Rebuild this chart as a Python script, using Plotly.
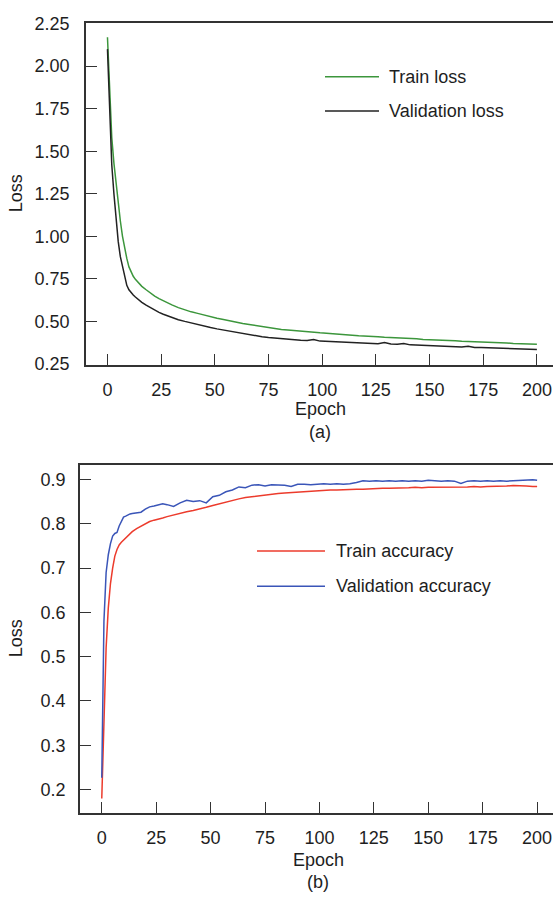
import plotly.graph_objects as go

W, H = 553, 905

epochs = [0,1,2,3,4,5,6,7,8,9,10,11,12,13,14,16,18,20,22,24,26,28,30,
          33,36,39,42,45,48,51,54,57,60,63,66,69,72,75,78,81,84,87,90,93,96,99,
          102,105,108,111,114,117,120,123,126,129,132,135,138,141,144,147,150,
          153,156,159,162,165,168,171,174,177,180,183,186,189,192,195,198,200]

train_loss = [2.17,1.85,1.58,1.43,1.31,1.20,1.09,1.00,0.93,0.87,0.82,0.79,0.765,0.747,0.731,
              0.706,0.686,0.666,0.649,0.634,0.620,0.608,0.597,
              0.581,0.568,0.556,0.547,0.536,0.528,0.518,0.511,0.502,0.496,0.488,0.482,0.476,
              0.468,0.461,0.457,0.452,0.449,0.445,0.443,0.439,0.437,0.433,
              0.431,0.427,0.425,0.421,0.419,0.416,0.415,0.411,0.410,0.407,0.406,0.403,0.402,
              0.399,0.398,0.394,0.393,0.390,0.389,0.386,0.386,0.383,0.382,0.380,0.379,0.376,
              0.376,0.373,0.373,0.370,0.370,0.367,0.367,0.366]

val_loss = [2.10,1.72,1.42,1.25,1.10,0.97,0.88,0.82,0.755,0.712,0.686,0.668,0.655,0.643,0.632,
            0.612,0.595,0.580,0.566,0.553,0.542,0.532,0.523,
            0.510,0.500,0.490,0.481,0.473,0.464,0.456,0.449,0.442,0.435,0.428,0.421,0.415,
            0.410,0.405,0.401,0.397,0.394,0.391,0.389,0.388,0.393,0.384,
            0.382,0.380,0.378,0.376,0.373,0.372,0.371,0.370,0.369,0.376,0.367,0.366,0.370,
            0.362,0.360,0.358,0.356,0.354,0.353,0.352,0.350,0.349,0.354,0.347,0.346,0.345,
            0.343,0.342,0.341,0.339,0.338,0.337,0.336,0.335]

train_acc = [0.18,0.36,0.52,0.61,0.665,0.700,0.727,0.742,0.752,0.758,0.763,0.768,0.774,0.778,0.782,
             0.789,0.795,0.800,0.805,0.808,0.810,0.813,0.816,
             0.820,0.823,0.827,0.830,0.833,0.837,0.841,0.845,0.849,0.853,0.856,0.859,0.861,
             0.863,0.865,0.866,0.868,0.869,0.870,0.872,0.873,0.874,0.875,
             0.875,0.876,0.876,0.877,0.877,0.878,0.878,0.879,0.879,0.880,0.880,0.880,0.881,
             0.881,0.882,0.881,0.882,0.882,0.883,0.882,0.883,0.883,0.883,0.884,0.883,0.884,
             0.884,0.885,0.885,0.886,0.886,0.885,0.884,0.884]

val_acc = [0.227,0.58,0.69,0.73,0.755,0.772,0.778,0.780,0.795,0.806,0.815,0.817,0.820,0.822,0.823,
           0.824,0.826,0.833,0.838,0.840,0.842,0.845,0.843,
           0.839,0.847,0.853,0.850,0.852,0.847,0.861,0.864,0.872,0.876,0.883,0.881,0.887,
           0.888,0.885,0.888,0.888,0.887,0.884,0.889,0.889,0.888,0.889,
           0.890,0.889,0.890,0.889,0.890,0.893,0.897,0.896,0.897,0.896,0.897,0.896,0.897,
           0.896,0.897,0.896,0.898,0.897,0.896,0.897,0.896,0.891,0.896,0.897,0.896,0.897,
           0.896,0.897,0.896,0.897,0.898,0.899,0.899,0.898]

x_ticks = [0, 25, 50, 75, 100, 125, 150, 175, 200]
loss_ticks = [0.25, 0.50, 0.75, 1.00, 1.25, 1.50, 1.75, 2.00, 2.25]
loss_tick_labels = ["0.25", "0.50", "0.75", "1.00", "1.25", "1.50", "1.75", "2.00", "2.25"]
acc_ticks = [0.2, 0.3, 0.4, 0.5, 0.6, 0.7, 0.8, 0.9]
acc_tick_labels = ["0.2", "0.3", "0.4", "0.5", "0.6", "0.7", "0.8", "0.9"]

GREEN = "#3c963c"
BLACK = "#222222"
RED = "#ec3b2c"
BLUE = "#3a55b8"
FONT = "Arial, Liberation Sans, sans-serif"
TXT = "#1e1e1e"
AX = "#333333"

fig = go.Figure()
fig.add_trace(go.Scatter(x=epochs, y=train_loss, mode="lines", line=dict(color=GREEN, width=1.5),
                         xaxis="x", yaxis="y", showlegend=False))
fig.add_trace(go.Scatter(x=epochs, y=val_loss, mode="lines", line=dict(color=BLACK, width=1.5),
                         xaxis="x", yaxis="y", showlegend=False))
fig.add_trace(go.Scatter(x=epochs, y=train_acc, mode="lines", line=dict(color=RED, width=1.5),
                         xaxis="x2", yaxis="y2", showlegend=False))
fig.add_trace(go.Scatter(x=epochs, y=val_acc, mode="lines", line=dict(color=BLUE, width=1.5),
                         xaxis="x2", yaxis="y2", showlegend=False))

def px(xp):
    return xp / W

def py(yp):
    return 1 - yp / H

axis_common = dict(showline=True, linecolor=AX, linewidth=1.5, ticks="inside", ticklen=11,
                   tickwidth=1.3, tickcolor=AX, showgrid=False, zeroline=False,
                   tickfont=dict(family=FONT, size=18, color=TXT))

fig.update_layout(
    width=W, height=H, margin=dict(l=0, r=0, t=0, b=0),
    paper_bgcolor="white", plot_bgcolor="white",
    xaxis=dict(domain=[px(86), 1], range=[-10, 207.5], tickvals=x_ticks, mirror=True,
               ticklabelstandoff=8, anchor="y", **axis_common),
    yaxis=dict(domain=[py(363), py(14)], range=[0.245, 2.255], tickvals=loss_ticks,
               ticktext=loss_tick_labels, ticklabelstandoff=11, anchor="x", **axis_common),
    xaxis2=dict(domain=[px(80), 1], range=[-10, 207.3], tickvals=x_ticks, mirror=True,
                ticklabelstandoff=8, anchor="y2", **axis_common),
    yaxis2=dict(domain=[py(820), py(465)], range=[0.148, 0.933], tickvals=acc_ticks,
                ticktext=acc_tick_labels, ticklabelstandoff=9, anchor="x2", **axis_common),
)

shapes = []
ann = []

def legend_item(x0, x1, y, color, text, tx):
    shapes.append(dict(type="line", xref="paper", yref="paper", x0=px(x0), x1=px(x1),
                       y0=py(y), y1=py(y), line=dict(color=color, width=1.5)))
    ann.append(dict(text=text, xref="paper", yref="paper", x=px(tx), y=py(y), xanchor="left",
                    yanchor="middle", showarrow=False, font=dict(family=FONT, size=18, color=TXT)))

legend_item(325, 379, 69, GREEN, "Train loss", 387)
legend_item(325, 379, 104, BLACK, "Validation loss", 387)
legend_item(257, 325, 553, RED, "Train accuracy", 334)
legend_item(257, 325, 589, BLUE, "Validation accuracy", 334)

def label(text, x, y, angle=0):
    ann.append(dict(text=text, xref="paper", yref="paper", x=px(x), y=py(y), xanchor="center",
                    yanchor="middle", showarrow=False, textangle=angle,
                    font=dict(family=FONT, size=18, color=TXT)))

label("Loss", 16, 188, -90)
label("Epoch", 320, 408)
label("(a)", 320, 432)
label("Loss", 16, 642, -90)
label("Epoch", 318, 868)
label("(b)", 318, 891)

fig.update_layout(shapes=shapes, annotations=ann)
fig.write_html("out.html")
